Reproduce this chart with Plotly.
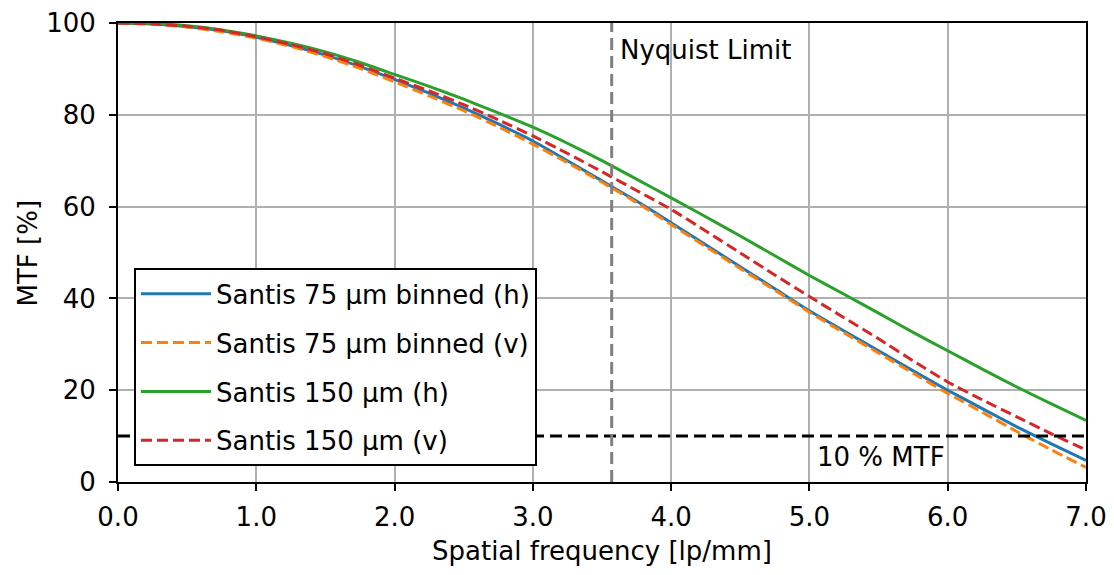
import plotly.graph_objects as go

freq = [0.0, 0.25, 0.5, 0.75, 1.0, 1.25, 1.5, 1.75, 2.0, 2.25, 2.5, 2.75, 3.0, 3.25, 3.5,
        3.75, 4.0, 4.25, 4.5, 4.75, 5.0, 5.25, 5.5, 5.75, 6.0, 6.25, 6.5, 6.75, 7.0]

mtf_75_h = [100, 99.8, 99.2, 98.3, 96.9, 95.1, 93.0, 90.5, 87.7, 84.7, 81.5, 78.0, 74.3, 70.0, 65.6,
            61.2, 56.5, 51.7, 46.9, 42.1, 37.3, 32.9, 28.6, 24.2, 20.0, 16.0, 12.0, 8.3, 4.7]
mtf_75_v = [100, 99.8, 99.1, 98.1, 96.7, 94.9, 92.7, 90.1, 87.2, 84.1, 80.9, 77.4, 73.6, 69.6, 65.3,
            60.9, 56.1, 51.3, 46.5, 41.8, 37.0, 32.5, 28.1, 23.7, 19.3, 15.2, 11.0, 7.0, 3.2]
mtf_150_h = [100, 99.9, 99.4, 98.5, 97.2, 95.6, 93.7, 91.4, 88.8, 86.2, 83.4, 80.4, 77.3, 73.8, 70.0,
             66.0, 61.9, 57.8, 53.6, 49.3, 45.0, 40.9, 36.8, 32.6, 28.6, 24.6, 20.7, 17.0, 13.4]
mtf_150_v = [100, 99.8, 99.3, 98.4, 97.0, 95.3, 93.3, 90.8, 88.0, 85.2, 82.2, 78.9, 75.4, 71.6, 67.6,
             63.5, 59.4, 54.7, 49.9, 45.1, 40.4, 35.8, 31.2, 26.4, 21.8, 17.9, 14.2, 10.5, 7.0]

names = ["Santis 75 µm binned (h)", "Santis 75 µm binned (v)",
         "Santis 150 µm (h)", "Santis 150 µm (v)"]
colors = ["#1f77b4", "#ff7f0e", "#2ca02c", "#d62728"]
dashes = ["solid", "11px,5px", "solid", "11px,5px"]
series = [mtf_75_h, mtf_75_v, mtf_150_h, mtf_150_v]

nyquist = 3.57
threshold = 10
x_ticks = [0, 1, 2, 3, 4, 5, 6, 7]
y_ticks = [0, 20, 40, 60, 80, 100]

FONT = "DejaVu Sans"
FS = 26

fig = go.Figure()
for i, (nm, c, d, s) in enumerate(zip(names, colors, dashes, series)):
    fig.add_trace(go.Scatter(x=freq, y=s, mode="lines", name=nm,
                             line=dict(color=c, width=3, dash=d, shape="spline", smoothing=0.5),
                             legendgroup=f"g{i}"))

fig.add_shape(type="line", xref="x", yref="y", x0=0, x1=7, y0=threshold, y1=threshold,
              line=dict(color="black", width=3, dash="12px,6px"), layer="above")
fig.add_shape(type="line", xref="x", yref="paper", x0=nyquist, x1=nyquist, y0=0, y1=1,
              line=dict(color="#808080", width=3, dash="12px,6px"), layer="above")

fig.add_annotation(x=nyquist, y=94.2, xref="x", yref="y", text="Nyquist Limit",
                   showarrow=False, xanchor="left", xshift=6,
                   font=dict(family=FONT, size=FS, color="black"))
fig.add_annotation(x=5.04, y=5.4, xref="x", yref="y", text="10 % MTF",
                   showarrow=False, xanchor="left",
                   font=dict(family=FONT, size=FS, color="black"))

fig.add_annotation(x=0.5, y=-0.151, xref="paper", yref="paper",
                   text="Spatial frequency [lp/mm]", showarrow=False,
                   xanchor="center", yanchor="middle",
                   font=dict(family=FONT, size=FS, color="black"))
fig.add_annotation(x=-0.093, y=0.5, xref="paper", yref="paper",
                   text="MTF [%]", showarrow=False, textangle=-90,
                   xanchor="center", yanchor="middle",
                   font=dict(family=FONT, size=FS, color="black"))

axis_common = dict(showline=True, linecolor="black", linewidth=2, mirror=True,
                   ticks="outside", ticklen=7, tickwidth=2, tickcolor="black",
                   showgrid=True, gridcolor="#b0b0b0", gridwidth=2, zeroline=False,
                   automargin=False, ticklabeloverflow="allow",
                   tickfont=dict(family=FONT, size=FS, color="black"))

fig.update_xaxes(range=[0, 7], tickvals=x_ticks, tickformat=".1f",
                 ticklabelstandoff=4, **axis_common)
fig.update_yaxes(range=[0, 100], tickvals=y_ticks,
                 ticklabelstandoff=8, **axis_common)

fig.update_layout(
    width=1106, height=567,
    margin=dict(l=110, r=28, t=15, b=93),
    plot_bgcolor="white", paper_bgcolor="white",
    showlegend=True,
    legend=dict(x=0.0165, y=0.034, xanchor="left", yanchor="bottom",
                bgcolor="white", bordercolor="black", borderwidth=2,
                font=dict(family=FONT, size=FS, color="black"),
                itemwidth=70, tracegroupgap=12),
)

fig.write_html("out.html")
